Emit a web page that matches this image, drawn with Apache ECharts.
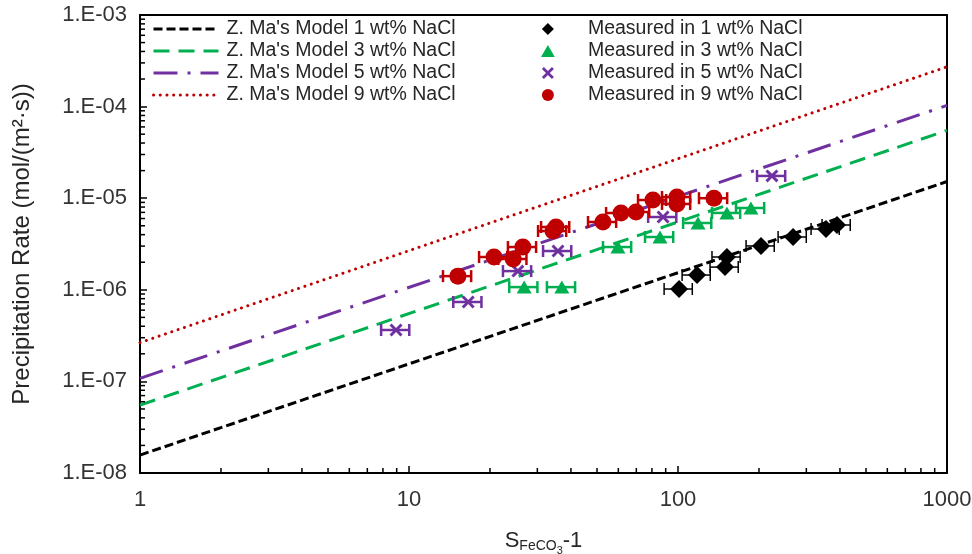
<!DOCTYPE html>
<html><head><meta charset="utf-8">
<script src="https://cdn.jsdelivr.net/npm/echarts@6/dist/echarts.min.js"></script>
<style>html,body{margin:0;padding:0;background:#fff}#c{width:972px;height:554px}</style>
</head><body><div id="c"></div>
<script>
// ---- data ----
const xTickLabels = ['1', '10', '100', '1000'];
const yTickLabels = ['1.E-08', '1.E-07', '1.E-06', '1.E-05', '1.E-04', '1.E-03'];
const minorMult = [2, 3, 4, 5, 6, 7, 8, 9];

const modelNames = ["Z. Ma's Model 1 wt% NaCl", "Z. Ma's Model 3 wt% NaCl", "Z. Ma's Model 5 wt% NaCl", "Z. Ma's Model 9 wt% NaCl"];
const measNames = ['Measured in 1 wt% NaCl', 'Measured in 3 wt% NaCl', 'Measured in 5 wt% NaCl', 'Measured in 9 wt% NaCl'];

const modelX = [1, 1000];
const model1 = [1.57e-8, 1.52e-5];
const model3 = [5.5e-8, 5.5e-5];
const model5 = [1.08e-7, 1.03e-4];
const model9 = [2.65e-7, 2.72e-4];

const meas1X = [100.9, 117.7, 149.5, 152, 203.5, 267.7, 355, 390];
const meas1Y = [1.02e-6, 1.45e-6, 1.77e-6, 2.28e-6, 3.01e-6, 3.77e-6, 4.61e-6, 5.1e-6];
const meas3X = [26.8, 37.0, 59.8, 85.7, 118.7, 152, 186.7];
const meas3Y = [1.07e-6, 1.07e-6, 2.93e-6, 3.77e-6, 5.36e-6, 6.9e-6, 7.82e-6];
const meas5X = [8.95, 16.6, 25.4, 35.8, 88.0, 223.5];
const meas5Y = [3.64e-7, 7.36e-7, 1.60e-6, 2.65e-6, 6.23e-6, 1.75e-5];
const meas9X = [15.2, 20.7, 24.4, 26.5, 34.3, 35.2, 52.6, 61.4, 69.8, 80.7, 99.1, 99.1, 136];
const meas9Y = [1.41e-6, 2.28e-6, 2.17e-6, 2.93e-6, 4.38e-6, 4.85e-6, 5.5e-6, 6.89e-6, 7.07e-6, 9.55e-6, 1.03e-5, 8.65e-6, 1.0e-5];
const xErrRel = 0.12; // relative horizontal error

// ---- styles ----
const FONT = 'Liberation Sans, Arial, sans-serif';
const cBlack = '#000000', cGreen = '#00B050', cPurple = '#7030A0', cRed = '#C00000';
const xPath = 'path://M0,1.6L1.6,0L5,3.4L8.4,0L10,1.6L6.6,5L10,8.4L8.4,10L5,6.6L1.6,10L0,8.4L3.4,5Z';
const diamondPath = 'path://M5,0L10,5L5,10L0,5Z';
const trianglePath = 'path://M5,0L10,8.7L0,8.7Z';

const zip = (a, b) => a.map((v, i) => [v, b[i]]);
const errData = (xs, ys) => xs.map((v, i) => [v * (1 - xErrRel), v * (1 + xErrRel), ys[i]]);

function errRender(color, width, cap) {
  return function (params, api) {
    const y = api.value(2);
    const p1 = api.coord([api.value(0), y]);
    const p2 = api.coord([api.value(1), y]);
    const style = { stroke: color, lineWidth: width };
    return { type: 'group', children: [
      { type: 'line', shape: { x1: p1[0], y1: p1[1], x2: p2[0], y2: p2[1] }, style },
      { type: 'line', shape: { x1: p1[0], y1: p1[1] - cap, x2: p1[0], y2: p1[1] + cap }, style },
      { type: 'line', shape: { x1: p2[0], y1: p2[1] - cap, x2: p2[0], y2: p2[1] + cap }, style }
    ] };
  };
}

const xMinor = [], yMinor = [];
for (let d = 0; d < 3; d++) minorMult.forEach(m => xMinor.push([m * Math.pow(10, d), 1e-8]));
for (let d = -8; d < -3; d++) minorMult.forEach(m => yMinor.push([1, m * Math.pow(10, d)]));

function lineSeries(name, ys, color, type, cap) {
  return {
    name, type: 'line', data: zip(modelX, ys), symbol: 'none', showSymbol: false, z: 2,
    lineStyle: { color, width: 3, type, cap: cap || 'butt' }, itemStyle: { color }, silent: true
  };
}
function errSeries(xs, ys, color, w, cap) {
  return { type: 'custom', data: errData(xs, ys), encode: { x: [0, 1], y: 2 }, renderItem: errRender(color, w, cap), z: 3, silent: true };
}
function scatter(name, xs, ys, symbol, size, color) {
  return { name, type: 'scatter', data: zip(xs, ys), symbol, symbolSize: size, itemStyle: { color, opacity: 1 }, z: 4 };
}
function tickSeries(data, dx, dy) {
  return { type: 'custom', data, encode: { x: 0, y: 1 }, silent: true, z: 10, clip: false,
    renderItem: (params, api) => {
      const p = api.coord([api.value(0), api.value(1)]);
      return { type: 'line', z2: 100, shape: { x1: p[0], y1: p[1], x2: p[0] + dx, y2: p[1] + dy }, style: { stroke: '#000', lineWidth: 1.5 } };
    } };
}

const axisCommon = {
  axisLine: { show: true, lineStyle: { color: '#000', width: 2 } },
  axisTick: { show: true, inside: true, length: 7, lineStyle: { color: '#000', width: 1.5 } },
  splitLine: { show: false }
};

const chart = echarts.init(document.getElementById('c'));
chart.setOption({
  animation: false,
  backgroundColor: '#fff',
  grid: { left: 140, right: 25, top: 15, bottom: 81, outerBoundsMode: 'none', containLabel: false },
  legend: [
    { left: 152, top: 19, orient: 'vertical', itemWidth: 65, itemHeight: 14, itemGap: 2, padding: 0,
      lineStyle: { width: 3 }, itemStyle: { opacity: 0 },
      textStyle: { fontSize: 19.5, lineHeight: 19, color: '#262626', fontFamily: FONT, padding: [0, 0, 0, 3] },
      data: modelNames },
    { left: 541, top: 19, orient: 'vertical', itemWidth: 70, itemHeight: 12, itemGap: 2, padding: 0,
      textStyle: { fontSize: 19.5, lineHeight: 19, color: '#262626', fontFamily: FONT },
      data: measNames }
  ],
  xAxis: [Object.assign({
    type: 'log', logBase: 10, min: 1, max: 1000, position: 'bottom',
    name: '{s|S}{sub|FeCO}{sub3|3}{s|-1}', nameLocation: 'middle', nameGap: 53,
    nameTextStyle: { fontFamily: FONT, color: '#262626', rich: {
      s: { fontSize: 22, fontFamily: FONT, color: '#262626' },
      sub: { fontSize: 14, fontFamily: FONT, color: '#262626', padding: [10, 0, 0, 0] },
      sub3: { fontSize: 11, fontFamily: FONT, color: '#262626', padding: [19, 0, 0, 0] } } },
    axisLabel: { fontSize: 22, fontFamily: FONT, color: '#333', margin: 16,
      formatter: v => xTickLabels[Math.round(Math.log10(v))] }
  }, axisCommon), {
    type: 'log', logBase: 10, min: 1, max: 1000, position: 'top',
    axisLine: { show: true, lineStyle: { color: '#000', width: 2 } },
    axisTick: { show: false }, axisLabel: { show: false }, splitLine: { show: false }
  }],
  yAxis: [Object.assign({
    type: 'log', logBase: 10, min: 1e-8, max: 1e-3, position: 'left',
    name: 'Precipitation Rate (mol/(m²·s))', nameLocation: 'middle', nameGap: 106, nameRotate: 90,
    nameTextStyle: { fontSize: 24, fontFamily: FONT, color: '#262626' },
    axisLabel: { fontSize: 22, fontFamily: FONT, color: '#333', margin: 13,
      formatter: v => yTickLabels[Math.round(Math.log10(v)) + 8] }
  }, axisCommon), {
    type: 'log', logBase: 10, min: 1e-8, max: 1e-3, position: 'right',
    axisLine: { show: true, lineStyle: { color: '#000', width: 2 } },
    axisTick: { show: false }, axisLabel: { show: false }, splitLine: { show: false }
  }],
  series: [
    tickSeries(xMinor, 0, -5),
    tickSeries(yMinor, 5, 0),
    lineSeries(modelNames[0], model1, cBlack, [9, 4]),
    lineSeries(modelNames[1], model3, cGreen, [16, 9]),
    lineSeries(modelNames[2], model5, cPurple, [24, 10, 3, 10]),
    lineSeries(modelNames[3], model9, cRed, [0.1, 6.6], 'round'),
    errSeries(meas1X, meas1Y, cBlack, 1.5, 6),
    errSeries(meas3X, meas3Y, cGreen, 2.5, 6),
    errSeries(meas5X, meas5Y, cPurple, 2.5, 6),
    errSeries(meas9X, meas9Y, cRed, 2.5, 6),
    scatter(measNames[0], meas1X, meas1Y, diamondPath, 18, cBlack),
    scatter(measNames[1], meas3X, meas3Y, trianglePath, [15, 13], cGreen),
    scatter(measNames[2], meas5X, meas5Y, xPath, 13, cPurple),
    scatter(measNames[3], meas9X, meas9Y, 'circle', 17, cRed)
  ]
});
</script></body></html>
